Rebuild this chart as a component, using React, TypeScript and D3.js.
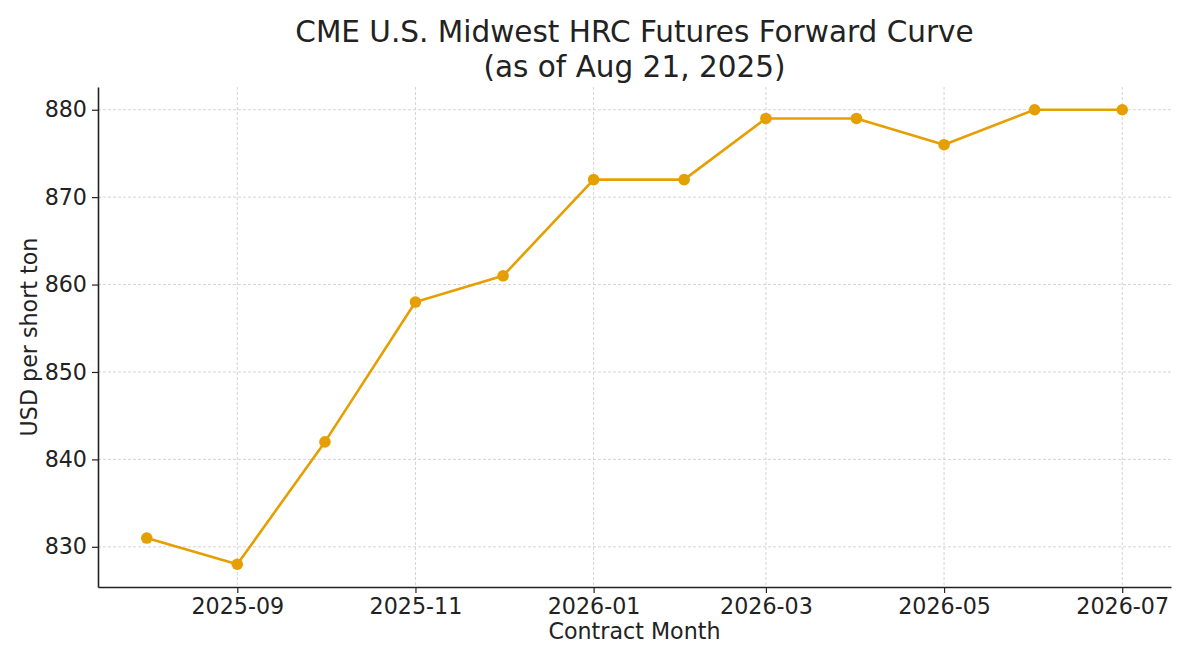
import { useEffect, useRef } from "react";
import * as d3 from "d3";

// Contract months and settlement prices (USD per short ton)
const months = [
  "2025-08", "2025-09", "2025-10", "2025-11", "2025-12", "2026-01",
  "2026-02", "2026-03", "2026-04", "2026-05", "2026-06", "2026-07",
];
const prices = [831, 828, 842, 858, 861, 872, 872, 879, 879, 876, 880, 880];
const yTicks = [830, 840, 850, 860, 870, 880];
const xTickLabels = ["2025-09", "2025-11", "2026-01", "2026-03", "2026-05", "2026-07"];

const titleLines = ["CME U.S. Midwest HRC Futures Forward Curve", "(as of Aug 21, 2025)"];

const width = 1200;
const height = 668;
const margin = { top: 87, right: 29, bottom: 81, left: 98 };
const font = "DejaVu Sans, sans-serif";
const lineColor = "#E69F00";
const labelSize = 22.2;

export default function App() {
  const svgRef = useRef<SVGSVGElement>(null);

  useEffect(() => {
    document.body.style.margin = "0";
    const svg = d3.select(svgRef.current);
    svg.selectAll("*").remove();

    const parse = d3.timeParse("%Y-%m");
    const data = months.map((m, i) => ({ date: parse(m) as Date, value: prices[i] }));

    const innerWidth = width - margin.left - margin.right;
    const innerHeight = height - margin.top - margin.bottom;

    // matplotlib-like 5% padding
    const [x0, x1] = d3.extent(data, (d) => d.date) as [Date, Date];
    const xPad = (x1.getTime() - x0.getTime()) * 0.05;
    const x = d3
      .scaleTime()
      .domain([new Date(x0.getTime() - xPad), new Date(x1.getTime() + xPad)])
      .range([0, innerWidth]);

    const [y0, y1] = d3.extent(prices) as [number, number];
    const yPad = (y1 - y0) * 0.05;
    const y = d3
      .scaleLinear()
      .domain([y0 - yPad, y1 + yPad])
      .range([innerHeight, 0]);

    const xTicks = xTickLabels.map((t) => parse(t) as Date);

    svg.attr("width", width).attr("height", height).style("background", "#fff");

    const g = svg.append("g").attr("transform", `translate(${margin.left},${margin.top})`);

    // Grid
    g.append("g")
      .selectAll("line")
      .data(yTicks)
      .enter()
      .append("line")
      .attr("x1", 0)
      .attr("x2", innerWidth)
      .attr("y1", (d) => y(d))
      .attr("y2", (d) => y(d))
      .attr("stroke", "#cfcfcf")
      .attr("stroke-width", 0.9)
      .attr("stroke-dasharray", "3,2");

    g.append("g")
      .selectAll("line")
      .data(xTicks)
      .enter()
      .append("line")
      .attr("x1", (d) => x(d))
      .attr("x2", (d) => x(d))
      .attr("y1", 0)
      .attr("y2", innerHeight)
      .attr("stroke", "#cfcfcf")
      .attr("stroke-width", 0.9)
      .attr("stroke-dasharray", "3,2");

    // X-axis
    const xAxis = g
      .append("g")
      .attr("transform", `translate(0,${innerHeight})`)
      .call(
        d3
          .axisBottom<Date>(x)
          .tickValues(xTicks)
          .tickFormat(d3.timeFormat("%Y-%m"))
          .tickSize(6)
          .tickSizeOuter(0)
          .tickPadding(5)
      );
    xAxis.select(".domain").attr("stroke", "#222").attr("stroke-width", 1.6);
    xAxis.selectAll(".tick line").attr("stroke", "#222").attr("stroke-width", 1.2);
    xAxis.selectAll(".tick text").attr("font-family", font).attr("font-size", labelSize).attr("fill", "#222");

    // Y-axis
    const yAxis = g
      .append("g")
      .call(d3.axisLeft(y).tickValues(yTicks).tickSize(6).tickSizeOuter(0).tickPadding(5));
    yAxis.select(".domain").attr("stroke", "#222").attr("stroke-width", 1.6);
    yAxis.selectAll(".tick line").attr("stroke", "#222").attr("stroke-width", 1.2);
    yAxis.selectAll(".tick text").attr("font-family", font).attr("font-size", labelSize).attr("fill", "#222");

    // Line
    const line = d3
      .line<{ date: Date; value: number }>()
      .x((d) => x(d.date))
      .y((d) => y(d.value));

    g.append("path")
      .datum(data)
      .attr("fill", "none")
      .attr("stroke", lineColor)
      .attr("stroke-width", 2.6)
      .attr("stroke-linejoin", "round")
      .attr("d", line);

    g.append("g")
      .selectAll("circle")
      .data(data)
      .enter()
      .append("circle")
      .attr("cx", (d) => x(d.date))
      .attr("cy", (d) => y(d.value))
      .attr("r", 5.8)
      .attr("fill", lineColor);

    // Title
    const title = svg
      .append("text")
      .attr("x", margin.left + innerWidth / 2)
      .attr("text-anchor", "middle")
      .attr("font-family", font)
      .attr("font-size", 29.5)
      .attr("fill", "#222");
    titleLines.forEach((t, i) => {
      title
        .append("tspan")
        .attr("x", margin.left + innerWidth / 2)
        .attr("y", 42 + i * 35)
        .text(t);
    });

    // Axis labels
    svg
      .append("text")
      .attr("x", margin.left + innerWidth / 2)
      .attr("y", 639)
      .attr("text-anchor", "middle")
      .attr("font-family", font)
      .attr("font-size", labelSize)
      .attr("fill", "#222")
      .text("Contract Month");

    svg
      .append("text")
      .attr("transform", `translate(37,${margin.top + innerHeight / 2}) rotate(-90)`)
      .attr("text-anchor", "middle")
      .attr("font-family", font)
      .attr("font-size", labelSize)
      .attr("fill", "#222")
      .text("USD per short ton");
  }, []);

  return <svg ref={svgRef} style={{ display: "block" }} />;
}
